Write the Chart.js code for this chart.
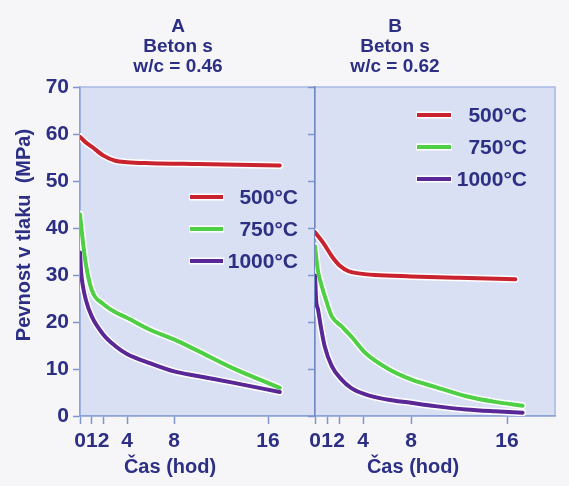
<!DOCTYPE html>
<html lang="cs">
<head>
<meta charset="utf-8">
<title>Pevnost v tlaku</title>
<script src="https://cdn.jsdelivr.net/npm/chart.js@4.4.1/dist/chart.umd.min.js"></script>
<style>
  html, body { margin: 0; padding: 0; background: #f6f6f8; }
  #wrap { position: relative; width: 569px; height: 486px; overflow: hidden; }
  #wrap canvas { position: absolute; top: 0; }
  #chartA { left: 0; width: 317px; height: 486px; }
  #chartB { left: 303px; width: 266px; height: 486px; }
</style>
</head>
<body>
<div id="wrap">
  <canvas id="chartA" width="317" height="486"></canvas>
  <canvas id="chartB" width="266" height="486"></canvas>
</div>
<script>
// Popisky a osy
const teploty = ['500°C', '750°C', '1000°C'];
const casTicks = [0, 1, 2, 4, 8, 16];
const nadpisA = ['A', 'Beton s', 'w/c = 0.46'];
const nadpisB = ['B', 'Beton s', 'w/c = 0.62'];
const osaYText = 'Pevnost v tlaku  (MPa)';
const osaXText = 'Čas (hod)';

// Beton A (w/c = 0.46): čas [hod] a pevnost [MPa]
const casA500 = [0, 0.5, 1, 2, 3, 4, 6, 10, 17];
const pevA500 = [59.4, 58.2, 57.3, 55.4, 54.3, 54.0, 53.8, 53.6, 53.3];
const casA750 = [0, 0.25, 0.5, 1, 2, 3, 4, 6, 8, 10, 13, 17];
const pevA750 = [42.9, 37.0, 32.3, 26.8, 23.8, 22.1, 20.9, 18.3, 16.3, 13.9, 10.2, 6.0];
const casA1000 = [0, 0.1, 0.25, 0.5, 1, 2, 3, 4, 6, 8, 10, 13, 17];
const pevA1000 = [34.8, 30.5, 27.6, 24.7, 21.2, 17.3, 14.9, 13.2, 11.2, 9.5, 8.5, 7.1, 5.1];

// Beton B (w/c = 0.62)
const casB500 = [0, 0.7, 1.4, 2.1, 2.8, 3.5, 5, 8, 12, 16.7];
const pevB500 = [39.1, 36.8, 34.0, 31.9, 30.8, 30.4, 30.0, 29.7, 29.4, 29.1];
const casB750 = [0, 0.25, 0.5, 1, 1.4, 2.2, 3, 4.2, 6.2, 8, 10, 12.6, 15, 17.3];
const pevB750 = [36.1, 30.8, 28.2, 24.0, 21.2, 19.1, 17.0, 13.4, 9.9, 7.8, 6.2, 4.2, 3.0, 2.2];
const casB1000 = [0, 0.1, 0.25, 0.5, 0.8, 1.4, 2.2, 3, 4.2, 6, 8, 10, 12.6, 15, 17.3];
const pevB1000 = [29.9, 24.5, 22.7, 18.8, 14.9, 10.6, 7.8, 6.0, 4.6, 3.5, 2.8, 2.1, 1.4, 1.0, 0.7];

const barvy = ['#c9232f', '#4fcf45', '#5a2896'];
const modra = '#2c2f84';
const pismo = "'Liberation Sans', Arial, sans-serif";

function body(cas, hodnoty) {
    return cas.map((t, i) => ({ x: t, y: hodnoty[i] }));
}

// Každá křivka má pod sebou bílý lem
function datasety(serie) {
    const lemy = serie.map(s => ({
        label: '', data: body(s[0], s[1]),
        borderColor: '#ffffff', borderWidth: 7, order: 1
    }));
    const cary = serie.map((s, i) => ({
        label: teploty[i], data: body(s[0], s[1]),
        borderColor: barvy[i], borderWidth: 4, order: 0
    }));
    return [...cary, ...lemy];
}

// Podbarvení plochy grafu
const plocha = {
    id: 'plocha',
    beforeDraw(chart) {
        const { ctx, chartArea: a } = chart;
        ctx.save();
        ctx.fillStyle = '#d9e0f3';
        ctx.fillRect(a.left, a.top, a.right - a.left, a.bottom - a.top);
        ctx.strokeStyle = '#a7b8e2';
        ctx.lineWidth = 1.5;
        ctx.strokeRect(a.left, a.top, a.right - a.left, a.bottom - a.top);
        ctx.restore();
    }
};

// Nadpisy, popisy os a legenda uvnitř grafu
const popisky = {
    id: 'popisky',
    afterDraw(chart, args, o) {
        const { ctx } = chart;
        ctx.save();
        ctx.fillStyle = modra;
        ctx.textAlign = 'center';
        ctx.textBaseline = 'middle';
        ctx.font = 'bold 19px ' + pismo;
        o.nadpis.forEach((r, i) => ctx.fillText(r, o.nadpisX, 27 + i * 20));

        ctx.font = 'bold 20px ' + pismo;
        ctx.fillText(osaXText, o.osaX, 467);

        if (o.osaY) {
            ctx.save();
            ctx.translate(24, 235);
            ctx.rotate(-Math.PI / 2);
            ctx.fillText(osaYText, 0, 0);
            ctx.restore();
        }

        const L = o.legenda;
        ctx.font = 'bold 21px ' + pismo;
        ctx.textAlign = 'right';
        teploty.forEach((t, i) => {
            const y = L.y + i * L.krok;
            ctx.lineCap = 'butt';
            ctx.strokeStyle = '#ffffff';
            ctx.lineWidth = 7;
            ctx.beginPath(); ctx.moveTo(L.x1 - 1, y); ctx.lineTo(L.x2 + 1, y); ctx.stroke();
            ctx.strokeStyle = barvy[i];
            ctx.lineWidth = 4;
            ctx.beginPath(); ctx.moveTo(L.x1, y); ctx.lineTo(L.x2, y); ctx.stroke();
            ctx.fillStyle = modra;
            ctx.fillText(t, L.text, y + 1);
        });
        ctx.restore();
    }
};

function vytvor(id, serie, popis, levaOsa) {
    const mrizka = { drawOnChartArea: false, color: '#7f95cc', tickWidth: 1.5 };
    const font = { family: pismo, size: 21, weight: 'bold' };
    return new Chart(document.getElementById(id), {
        type: 'line',
        data: { datasets: datasety(serie) },
        plugins: [plocha, popisky],
        options: {
            responsive: false,
            animation: false,
            layout: { padding: { top: 87, right: levaOsa ? 2 : 14, left: 0, bottom: 0 } },
            elements: {
                point: { radius: 0 },
                line: { cubicInterpolationMode: 'monotone', fill: false, borderCapStyle: 'round' }
            },
            scales: {
                x: {
                    type: 'linear', min: 0, max: 20,
                    afterBuildTicks: s => { s.ticks = casTicks.map(v => ({ value: v })); },
                    afterFit: s => { s.height = 70; },
                    ticks: { autoSkip: false, maxRotation: 0, padding: 5, color: modra, font },
                    grid: { ...mrizka, tickLength: 8 },
                    border: { color: '#8ea3d6', width: 1.5 }
                },
                y: {
                    min: 0, max: 70,
                    afterFit: s => { s.width = levaOsa ? 80 : 12; },
                    ticks: { stepSize: 10, display: levaOsa, padding: 4, color: modra, font },
                    grid: { ...mrizka, tickLength: 7 },
                    border: { color: levaOsa ? '#8ea3d6' : '#7389c4', width: 1.5 }
                }
            },
            plugins: {
                legend: { display: false },
                tooltip: { enabled: false },
                popisky: popis
            }
        }
    });
}

vytvor('chartA', [[casA500, pevA500], [casA750, pevA750], [casA1000, pevA1000]], {
    nadpis: nadpisA, nadpisX: 178, osaX: 170, osaY: true,
    legenda: { x1: 190, x2: 223, text: 298, y: 197, krok: 32 }
}, true);

vytvor('chartB', [[casB500, pevB500], [casB750, pevB750], [casB1000, pevB1000]], {
    nadpis: nadpisB, nadpisX: 92, osaX: 110, osaY: false,
    legenda: { x1: 114, x2: 148, text: 224, y: 115, krok: 32 }
}, false);
</script>
</body>
</html>
